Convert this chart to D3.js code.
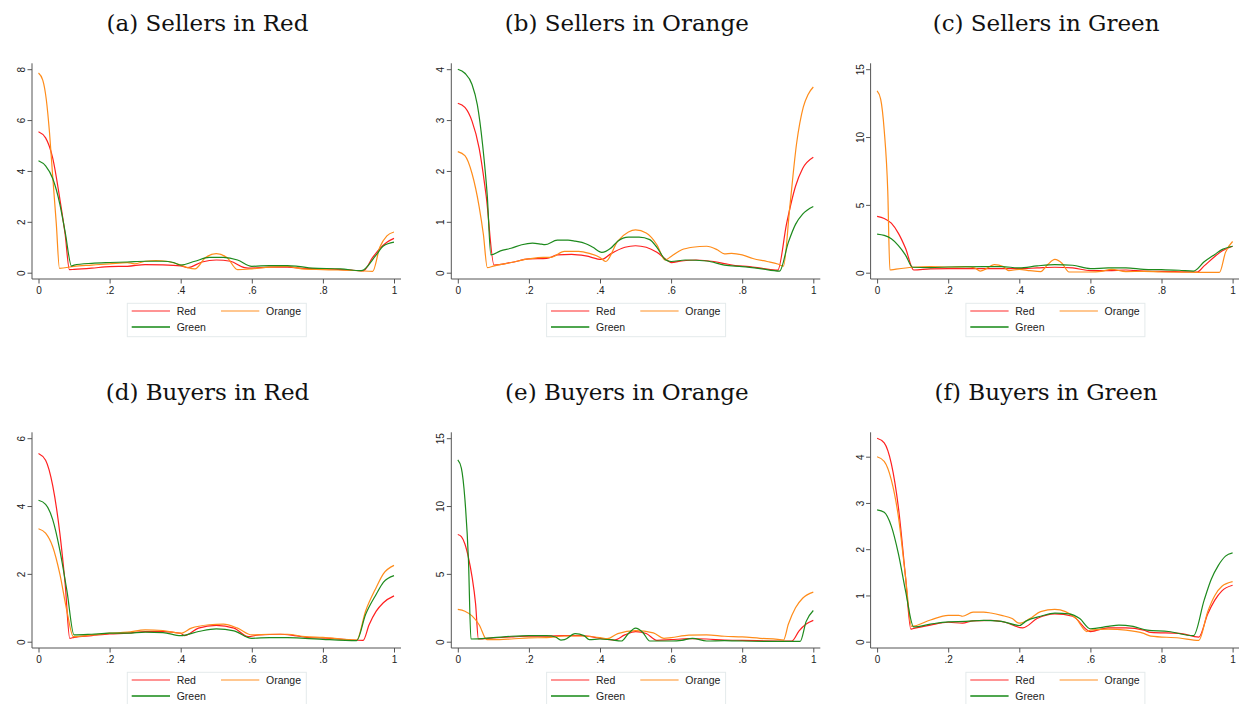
<!DOCTYPE html>
<html>
<head>
<meta charset="utf-8">
<script src="https://cdn.jsdelivr.net/npm/d3@7"></script>
<style>
  body { margin: 0; background: #fff; }
  svg { display: block; }
</style>
</head>
<body>
<svg id="board" width="1239" height="704"></svg>
<script>
// titles and tick labels, one entry per panel (a..f)
let panelTitles = ['(a) Sellers in Red', '(b) Sellers in Orange', '(c) Sellers in Green',
                   '(d) Buyers in Red', '(e) Buyers in Orange', '(f) Buyers in Green']
let yTicks = [[0, 2, 4, 6, 8], [0, 1, 2, 3, 4], [0, 5, 10, 15],
              [0, 2, 4, 6], [0, 5, 10, 15], [0, 1, 2, 3, 4]]
let xTicks = [0, 0.2, 0.4, 0.6, 0.8, 1]
let seriesNames = ['Red', 'Orange', 'Green']
let seriesColors = ['#ff1f1f', '#ff8c1a', '#1d8a1d']
let legendColors = ['#ff2a2a', '#ff8f22', '#4fa64f']

// (a) Sellers in Red
let aRed = [[0,5.54],[0.02,5.3],[0.04,4.5],[0.06,2.9],[0.075,1.5],[0.087,0.12],[0.1,0.13],[0.15,0.18],[0.2,0.24],[0.25,0.25],[0.3,0.32],[0.35,0.31],[0.4,0.27],[0.42,0.2],[0.46,0.42],[0.5,0.5],[0.54,0.45],[0.58,0.2],[0.6,0.18],[0.65,0.22],[0.7,0.22],[0.75,0.17],[0.8,0.15],[0.88,0.1],[0.913,0.07],[0.94,0.6],[0.96,0.95],[0.98,1.2],[1,1.35]]
let aOrange = [[0,7.85],[0.012,7.57],[0.022,6.8],[0.031,5.5],[0.04,3.77],[0.05,1.94],[0.059,0.17],[0.1,0.25],[0.15,0.3],[0.2,0.35],[0.25,0.4],[0.27,0.35],[0.3,0.45],[0.33,0.48],[0.36,0.45],[0.4,0.3],[0.42,0.2],[0.44,0.15],[0.47,0.6],[0.5,0.75],[0.53,0.6],[0.56,0.12],[0.6,0.15],[0.65,0.22],[0.7,0.25],[0.74,0.15],[0.8,0.12],[0.9,0.08],[0.94,0.05],[0.96,1.0],[0.98,1.45],[1,1.6]]
let aGreen = [[0,4.4],[0.02,4.2],[0.04,3.7],[0.06,2.7],[0.075,1.6],[0.093,0.26],[0.1,0.3],[0.15,0.37],[0.2,0.4],[0.25,0.42],[0.3,0.45],[0.35,0.45],[0.38,0.4],[0.4,0.3],[0.44,0.45],[0.48,0.6],[0.52,0.6],[0.56,0.5],[0.6,0.25],[0.65,0.28],[0.7,0.28],[0.73,0.25],[0.77,0.18],[0.85,0.15],[0.908,0.08],[0.95,0.7],[0.97,1.05],[1,1.2]]

// (b) Sellers in Orange
let bRed = [[0,3.33],[0.02,3.25],[0.04,2.98],[0.06,2.45],[0.08,1.5],[0.102,0.15],[0.15,0.2],[0.2,0.27],[0.25,0.28],[0.28,0.35],[0.32,0.36],[0.36,0.33],[0.405,0.26],[0.43,0.37],[0.47,0.5],[0.5,0.53],[0.53,0.5],[0.56,0.4],[0.59,0.24],[0.6,0.2],[0.63,0.23],[0.67,0.25],[0.72,0.22],[0.75,0.18],[0.78,0.14],[0.82,0.12],[0.86,0.08],[0.9,0.05],[0.925,0.97],[0.95,1.7],[0.97,2.05],[1,2.27]]
let bOrange = [[0,2.38],[0.02,2.3],[0.04,1.95],[0.06,1.3],[0.072,0.75],[0.083,0.1],[0.1,0.13],[0.15,0.2],[0.2,0.27],[0.24,0.3],[0.26,0.3],[0.3,0.42],[0.34,0.42],[0.37,0.38],[0.4,0.3],[0.416,0.22],[0.45,0.62],[0.48,0.8],[0.5,0.84],[0.53,0.78],[0.56,0.55],[0.583,0.25],[0.6,0.32],[0.63,0.45],[0.66,0.5],[0.7,0.52],[0.73,0.45],[0.75,0.37],[0.77,0.38],[0.8,0.35],[0.83,0.28],[0.87,0.22],[0.9,0.17],[0.916,0.13],[0.934,1.3],[0.953,2.54],[0.972,3.26],[0.985,3.5],[1,3.65]]
let bGreen = [[0,4.0],[0.02,3.92],[0.04,3.7],[0.055,3.3],[0.07,2.5],[0.083,1.5],[0.093,0.35],[0.12,0.43],[0.15,0.48],[0.18,0.55],[0.21,0.58],[0.235,0.56],[0.245,0.55],[0.28,0.64],[0.31,0.64],[0.33,0.62],[0.36,0.57],[0.38,0.5],[0.405,0.4],[0.43,0.48],[0.45,0.62],[0.48,0.7],[0.51,0.7],[0.54,0.65],[0.56,0.5],[0.585,0.25],[0.6,0.22],[0.64,0.25],[0.7,0.23],[0.75,0.15],[0.8,0.12],[0.85,0.08],[0.905,0.03],[0.93,0.6],[0.95,0.95],[0.97,1.15],[1,1.3]]

// (c) Sellers in Green
let cRed = [[0,4.15],[0.02,4.0],[0.04,3.65],[0.06,2.9],[0.08,1.8],[0.103,0.2],[0.15,0.28],[0.2,0.3],[0.3,0.3],[0.4,0.3],[0.45,0.35],[0.5,0.4],[0.55,0.35],[0.6,0.15],[0.65,0.15],[0.7,0.2],[0.75,0.12],[0.8,0.1],[0.9,0.05],[0.92,0.5],[0.95,1.2],[0.97,1.6],[1,1.95]]
let cOrange = [[0,13.4],[0.01,12.8],[0.02,10.5],[0.03,6],[0.036,0.2],[0.05,0.25],[0.1,0.4],[0.15,0.45],[0.2,0.42],[0.25,0.45],[0.275,0.35],[0.29,0.12],[0.3,0.2],[0.33,0.6],[0.355,0.45],[0.37,0.15],[0.4,0.25],[0.43,0.15],[0.46,0.08],[0.48,0.6],[0.5,0.98],[0.52,0.7],[0.54,0.05],[0.6,0.05],[0.63,0.1],[0.66,0.25],[0.7,0.08],[0.75,0.1],[0.8,0.05],[0.9,0.03],[0.963,0.02],[0.98,1.5],[1,2.3]]
let cGreen = [[0,2.85],[0.02,2.75],[0.04,2.5],[0.06,2.0],[0.08,1.3],[0.1,0.4],[0.15,0.38],[0.2,0.42],[0.3,0.45],[0.35,0.45],[0.4,0.35],[0.45,0.5],[0.5,0.6],[0.55,0.55],[0.6,0.3],[0.65,0.35],[0.7,0.35],[0.75,0.25],[0.8,0.22],[0.85,0.18],[0.89,0.12],[0.92,0.8],[0.95,1.35],[0.97,1.7],[1,1.95]]

// (d) Buyers in Red
let dRed = [[0,5.55],[0.02,5.35],[0.04,4.6],[0.06,3.2],[0.075,1.7],[0.088,0.1],[0.1,0.13],[0.15,0.18],[0.2,0.23],[0.25,0.25],[0.3,0.3],[0.35,0.3],[0.4,0.25],[0.41,0.18],[0.45,0.4],[0.5,0.48],[0.55,0.4],[0.59,0.15],[0.62,0.2],[0.68,0.22],[0.72,0.18],[0.76,0.12],[0.82,0.1],[0.88,0.05],[0.913,0.04],[0.93,0.5],[0.95,0.9],[0.97,1.15],[1,1.35]]
let dOrange = [[0,3.33],[0.02,3.2],[0.04,2.8],[0.06,2.0],[0.08,0.9],[0.098,0.15],[0.15,0.2],[0.2,0.25],[0.25,0.28],[0.3,0.35],[0.35,0.33],[0.4,0.25],[0.43,0.4],[0.48,0.5],[0.52,0.52],[0.56,0.4],[0.6,0.2],[0.65,0.22],[0.7,0.22],[0.75,0.15],[0.8,0.13],[0.895,0.05],[0.92,0.9],[0.95,1.6],[0.97,2.0],[1,2.25]]
let dGreen = [[0,4.17],[0.02,4.05],[0.04,3.6],[0.06,2.7],[0.08,1.5],[0.1,0.2],[0.15,0.22],[0.2,0.25],[0.25,0.25],[0.3,0.28],[0.35,0.27],[0.4,0.18],[0.45,0.3],[0.5,0.38],[0.55,0.32],[0.6,0.1],[0.65,0.12],[0.7,0.12],[0.75,0.1],[0.8,0.07],[0.895,0.03],[0.92,0.8],[0.95,1.4],[0.97,1.75],[1,1.95]]

// (e) Buyers in Orange
let eRed = [[0,7.9],[0.01,7.75],[0.02,7.2],[0.03,6.2],[0.04,4.8],[0.05,2.8],[0.058,0.2],[0.1,0.28],[0.15,0.35],[0.2,0.4],[0.25,0.4],[0.3,0.45],[0.35,0.45],[0.4,0.25],[0.44,0.12],[0.47,0.5],[0.5,0.75],[0.53,0.6],[0.56,0.1],[0.6,0.15],[0.65,0.22],[0.7,0.2],[0.75,0.12],[0.8,0.1],[0.9,0.05],[0.939,0.04],[0.96,0.8],[0.98,1.3],[1,1.57]]
let eOrange = [[0,2.38],[0.02,2.25],[0.04,1.9],[0.06,1.25],[0.082,0.15],[0.1,0.15],[0.15,0.2],[0.2,0.28],[0.25,0.3],[0.3,0.42],[0.35,0.42],[0.4,0.3],[0.42,0.22],[0.45,0.6],[0.5,0.82],[0.55,0.65],[0.58,0.25],[0.6,0.3],[0.65,0.48],[0.7,0.5],[0.75,0.4],[0.8,0.35],[0.85,0.25],[0.9,0.17],[0.916,0.12],[0.93,1.3],[0.95,2.5],[0.97,3.2],[1,3.65]]
let eGreen = [[0,13.4],[0.01,12.8],[0.02,10.5],[0.03,6],[0.037,0.2],[0.1,0.3],[0.15,0.4],[0.2,0.45],[0.25,0.45],[0.275,0.35],[0.29,0.12],[0.3,0.15],[0.33,0.6],[0.355,0.45],[0.37,0.15],[0.4,0.2],[0.43,0.15],[0.46,0.05],[0.48,0.6],[0.5,1.0],[0.52,0.7],[0.54,0.05],[0.6,0.05],[0.63,0.1],[0.66,0.25],[0.7,0.05],[0.75,0.08],[0.8,0.05],[0.9,0.02],[0.963,0.02],[0.98,1.5],[1,2.3]]

// (f) Buyers in Green
let fRed = [[0,4.4],[0.02,4.3],[0.04,3.85],[0.06,2.9],[0.08,1.4],[0.095,0.27],[0.1,0.28],[0.15,0.36],[0.2,0.42],[0.24,0.4],[0.27,0.45],[0.32,0.46],[0.36,0.42],[0.41,0.3],[0.45,0.5],[0.5,0.6],[0.55,0.55],[0.6,0.22],[0.65,0.3],[0.7,0.3],[0.75,0.25],[0.77,0.2],[0.85,0.18],[0.905,0.1],[0.93,0.6],[0.95,0.9],[0.97,1.1],[1,1.22]]
let fOrange = [[0,4.0],[0.02,3.9],[0.04,3.5],[0.06,2.7],[0.08,1.4],[0.097,0.33],[0.15,0.47],[0.2,0.57],[0.23,0.57],[0.24,0.55],[0.27,0.64],[0.3,0.64],[0.32,0.62],[0.35,0.57],[0.38,0.5],[0.4,0.4],[0.43,0.5],[0.46,0.65],[0.5,0.7],[0.53,0.65],[0.56,0.5],[0.59,0.22],[0.6,0.25],[0.65,0.27],[0.7,0.25],[0.75,0.18],[0.77,0.12],[0.85,0.08],[0.905,0.03],[0.93,0.65],[0.95,1.0],[0.97,1.2],[1,1.3]]
let fGreen = [[0,2.85],[0.02,2.8],[0.04,2.5],[0.06,1.9],[0.08,1.1],[0.103,0.32],[0.15,0.38],[0.2,0.43],[0.25,0.44],[0.3,0.46],[0.35,0.44],[0.4,0.35],[0.42,0.45],[0.46,0.55],[0.5,0.62],[0.54,0.6],[0.57,0.5],[0.6,0.28],[0.65,0.33],[0.68,0.36],[0.72,0.33],[0.76,0.25],[0.82,0.22],[0.89,0.13],[0.92,0.9],[0.94,1.35],[0.96,1.65],[0.98,1.85],[1,1.92]]

let panelSeries = [[aRed, aOrange, aGreen], [bRed, bOrange, bGreen], [cRed, cOrange, cGreen],
                   [dRed, dOrange, dGreen], [eRed, eOrange, eGreen], [fRed, fOrange, fGreen]]

let board = d3.select('#board')
board.append('rect').attr('width', 1239).attr('height', 704).attr('fill', '#fff')

// panel geometry (relative to the y-axis line of each panel)
let colStep = 419.3
let rowStep = 369
let axisLeft = 32
let lineTop = 63.3      // top of the y axis line
let axisY = 279         // x axis line
let zeroY = 272.7       // where y = 0 sits
let maxY = 69.2         // where the top of the y range sits
let axisRight = 369
let axisColor = '#555'

let fmtX = (d) => (d === 0 || d === 1) ? String(d) : String(d).replace(/^0/, '')

let drawPanel = (i) => {
    let col = i % 3
    let row = Math.floor(i / 3)
    let g = board.append('g')
        .attr('transform', 'translate(' + (axisLeft + col * colStep) + ',' + (row * rowStep) + ')')

    let series = panelSeries[i]
    let dataMax = d3.max(series, (s) => d3.max(s, (p) => p[1]))
    let topVal = Math.max(d3.max(yTicks[i]), dataMax)

    let x = d3.scaleLinear().domain([0, 1]).range([6.5, 362])
    let y = d3.scaleLinear().domain([0, topVal]).range([zeroY, maxY])

    // title
    g.append('text')
        .attr('x', 175.5)
        .attr('y', 31)
        .attr('text-anchor', 'middle')
        .style('font-family', '"DejaVu Serif", serif')
        .style('font-size', '23px')
        .attr('fill', '#111')
        .text(panelTitles[i])

    // y axis
    let yAxis = g.append('g')
        .call(d3.axisLeft(y).tickValues(yTicks[i]).tickSize(4.5).tickSizeOuter(0).tickFormat(d3.format('d')))
    yAxis.select('.domain').remove()
    yAxis.selectAll('line').attr('stroke', axisColor)
    yAxis.selectAll('text')
        .attr('transform', 'rotate(-90)')
        .attr('x', 0)
        .attr('y', -7)
        .attr('dy', 0)
        .attr('text-anchor', 'middle')
        .attr('fill', '#222')
        .style('font-family', '"Liberation Sans", Arial, sans-serif')
        .style('font-size', '10px')

    // x axis
    let xAxis = g.append('g')
        .attr('transform', 'translate(0,' + axisY + ')')
        .call(d3.axisBottom(x).tickValues(xTicks).tickSize(4.5).tickSizeOuter(0).tickFormat(fmtX))
    xAxis.select('.domain').remove()
    xAxis.selectAll('line').attr('stroke', axisColor)
    xAxis.selectAll('text')
        .attr('y', 8)
        .attr('dy', '0.71em')
        .attr('fill', '#222')
        .style('font-family', '"Liberation Sans", Arial, sans-serif')
        .style('font-size', '10px')

    // axis lines
    g.append('line').attr('x1', 0).attr('x2', 0).attr('y1', lineTop).attr('y2', axisY)
        .attr('stroke', axisColor).attr('stroke-width', 1)
    g.append('line').attr('x1', 0).attr('x2', axisRight).attr('y1', axisY).attr('y2', axisY)
        .attr('stroke', axisColor).attr('stroke-width', 1)

    // curves
    let line = d3.line()
        .x((p) => x(p[0]))
        .y((p) => y(p[1]))
        .curve(d3.curveMonotoneX)

    g.selectAll('path.curve')
        .data(series)
        .enter()
        .append('path')
        .attr('class', 'curve')
        .attr('d', line)
        .attr('fill', 'none')
        .attr('stroke', (s, k) => seriesColors[k])
        .attr('stroke-width', 1.2)

    // legend
    let legend = g.append('g').attr('transform', 'translate(95.3,' + (axisY + 24.3) + ')')
    legend.append('rect')
        .attr('width', 179).attr('height', 33.4)
        .attr('fill', '#fff')
        .attr('stroke', '#e4eaec')
        .attr('stroke-width', 1)
    let slots = [[4.4, 7.7], [93.7, 7.7], [4.4, 23.7]]
    seriesNames.forEach((name, k) => {
        let sx = slots[k][0]
        let sy = slots[k][1]
        legend.append('line')
            .attr('x1', sx).attr('x2', sx + 38.3)
            .attr('y1', sy).attr('y2', sy)
            .attr('stroke', legendColors[k])
            .attr('stroke-width', k === 2 ? 1.8 : 1.1)
        legend.append('text')
            .attr('x', sx + 45)
            .attr('y', sy + 3.8)
            .attr('fill', '#222')
            .style('font-family', '"Liberation Sans", Arial, sans-serif')
            .style('font-size', '10.5px')
            .text(name)
    })
}

for (let i = 0; i < 6; i++) {
    drawPanel(i)
}
</script>
</body>
</html>
